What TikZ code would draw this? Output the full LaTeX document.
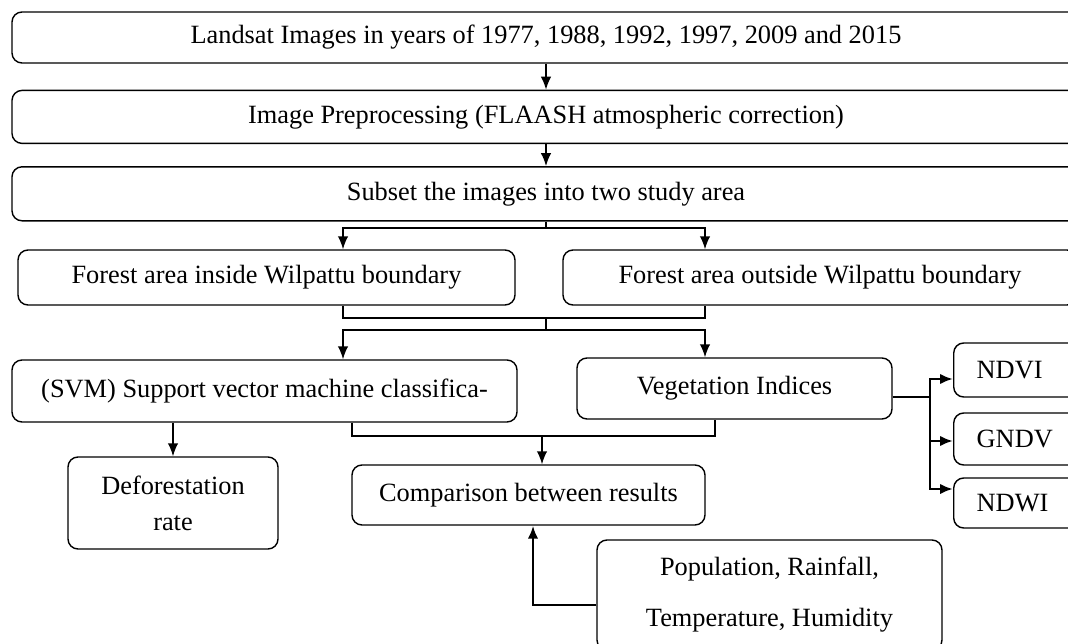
\documentclass[tikz,border=0pt]{standalone}
\usepackage{fontspec}
\setmainfont{Liberation Serif}
\usetikzlibrary{positioning}
\usetikzlibrary{arrows.meta}
\tikzset{>={Latex[length=2.6mm,width=2.1mm]}}
\tikzset{blk/.style={draw, rounded corners=2mm, line width=0.8pt, align=center, inner sep=0pt, font=\fontsize{15}{20.4}\selectfont}}
\tikzset{idx/.style={blk, anchor=west, text width=1.8cm, inner xsep=0.46cm, align=left}}
\tikzset{ln/.style={line width=0.9pt}}
\tikzset{thk/.style={line width=1.4pt}}

\begin{document}
\begin{tikzpicture}
\useasboundingbox (0,0) rectangle (21.36,-12.88);

\node[blk, minimum width=21.36cm, minimum height=1.02cm] (land) at (10.92,-0.75) {Landsat Images in years of 1977, 1988, 1992, 1997, 2009 and 2015};
\node[blk, minimum width=21.36cm, minimum height=1.06cm] (prep) [below=0.52cm of land] {Image Preprocessing (FLAASH atmospheric correction)};
\node[blk, minimum width=21.36cm, minimum height=1.08cm] (sub) [below=0.44cm of prep] {Subset the images into two study area};

\node[blk, minimum width=9.94cm, minimum height=1.1cm] (inside) at (5.33,-5.55) {Forest area inside Wilpattu boundary};
\node[blk, minimum width=10.28cm, minimum height=1.1cm] (outside) at (16.40,-5.55) {Forest area outside Wilpattu boundary};

\node[blk, minimum width=10.1cm, minimum height=1.24cm] (svm) at (5.29,-7.82) {(SVM) Support vector machine classifica-};
\node[blk, minimum width=6.3cm, minimum height=1.22cm] (veg) at (14.69,-7.77) {Vegetation Indices};

\node[idx, minimum height=1.08cm] (ndvi) at (19.06,-7.40) {NDVI};
\node[idx, minimum height=1.04cm] (gndv) at (19.06,-8.78) {GNDV};
\node[idx, minimum height=1.0cm] (ndwi) at (19.06,-10.06) {NDWI};

\node[blk, minimum width=4.2cm, minimum height=1.84cm] (defo) at (3.46,-10.06) {Deforestation\\rate};
\node[blk, minimum width=7.06cm, minimum height=1.2cm] (comp) at (10.57,-9.90) {Comparison between results};
\node[blk, minimum width=6.9cm, minimum height=2.2cm] (pop) at (15.39,-11.90) {Population, Rainfall,\\[8.6pt]Temperature, Humidity};

\coordinate (lx) at (6.86,0);
\coordinate (rx) at (14.10,0);
\coordinate (bx) at (7.04,0);
\coordinate (vx) at (14.30,0);
\coordinate (cx) at (10.66,0);
\coordinate (j0) at (10.92,-4.56);
\coordinate (j1) at (10.92,-6.36);
\coordinate (j2) at (10.92,-6.60);
\coordinate (j3) at (10.84,-8.72);
\coordinate (vj) at (18.60,-7.94);

\draw[ln,->] (land) -- (prep);
\draw[ln,->] (prep) -- (sub);

\draw[ln] (sub) -- (j0);
\draw[ln,->] (j0) -| (inside.north -| lx);
\draw[ln,->] (j0) -| (outside.north -| rx);

\draw[ln] (inside.south -| lx) |- (j1) -| (outside.south -| rx);
\draw[ln] (j1) -- (j2);
\draw[ln,->] (j2) -| (svm.north -| lx);
\draw[ln,->] (j2) -| (veg.north -| rx);

\draw[ln,->] (svm.south -| defo) -- (defo);
\draw[ln] (svm.south -| bx) |- (j3) -| (veg.south -| vx);
\draw[ln,->] (j3) -- (comp.north -| j3);

\draw[ln] (veg.east |- vj) -- (vj);
\draw[thk,->] (vj) |- ([yshift=-0.18cm]ndvi.west);
\draw[thk,->] (vj) |- ([yshift=-0.04cm]gndv.west);
\draw[thk,->] (vj) |- ([yshift=0.28cm]ndwi.west);

\draw[thk,->] ([yshift=-0.2cm]pop.west) -| (comp.south -| cx);
\end{tikzpicture}
\end{document}
